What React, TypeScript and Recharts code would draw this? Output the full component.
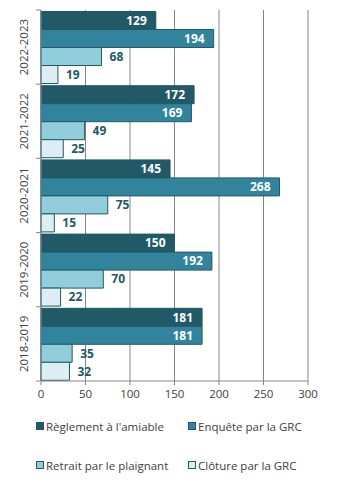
import React from 'react';
import { BarChart, Bar, XAxis, YAxis, CartesianGrid, LabelList } from 'recharts';

const categories = ['2022-2023', '2021-2022', '2020-2021', '2019-2020', '2018-2019'];
const reglement = [129, 172, 145, 150, 181];
const enquete = [194, 169, 268, 192, 181];
const retrait = [68, 49, 75, 70, 35];
const cloture = [19, 25, 15, 22, 32];
const xTicks = [0, 50, 100, 150, 200, 250, 300];

const seriesNames = ["Règlement à l'amiable", 'Enquête par la GRC', 'Retrait par le plaignant', 'Clôture par la GRC'];
const colors = ['#215967', '#31849B', '#92CDDC', '#DAEEF3'];
const strokeColor = '#215967';
const axisColor = '#868686';
const textColor = '#404040';
const font = 'Open Sans';

const data = categories.map((c, i) => ({
  cat: c,
  reglement: reglement[i],
  enquete: enquete[i],
  retrait: retrait[i],
  cloture: cloture[i],
}));

const PLOT_LEFT = 41;
const PLOT_TOP = 10;
const PLOT_H = 371;
const BAND = PLOT_H / categories.length;

const YTick = (props: any) => {
  const { y, payload, index } = props;
  return (
    <g>
      <line x1={PLOT_LEFT - 5} x2={PLOT_LEFT} y1={y - BAND / 2} y2={y - BAND / 2} stroke={axisColor} />
      {index === categories.length - 1 && (
        <line x1={PLOT_LEFT - 5} x2={PLOT_LEFT} y1={y + BAND / 2} y2={y + BAND / 2} stroke={axisColor} />
      )}
      <text
        transform={`translate(${23},${y}) rotate(-90)`}
        textAnchor="middle"
        dominantBaseline="central"
        fontFamily={font}
        fontSize={11.5}
        fill={textColor}
      >
        {payload.value}
      </text>
    </g>
  );
};

const LegendBlock = () => {
  const pos = [
    { left: 36, top: 426 },
    { left: 188, top: 426 },
    { left: 36, top: 465 },
    { left: 188, top: 465 },
  ];
  return (
    <>
      {seriesNames.map((n, i) => (
        <div
          key={i}
          style={{
            position: 'absolute',
            left: pos[i].left,
            top: pos[i].top - 9,
            height: 18,
            display: 'flex',
            alignItems: 'center',
            fontFamily: font,
            fontSize: 11.5,
            color: textColor,
            whiteSpace: 'nowrap',
          }}
        >
          <span
            style={{
              display: 'inline-block',
              width: 6,
              height: 6,
              background: colors[i],
              border: `1px solid ${strokeColor}`,
              marginRight: 2,
            }}
          />
          <span>{n}</span>
        </div>
      ))}
    </>
  );
};

const labelStyleIn = { fill: '#FFFFFF', fontFamily: font, fontSize: 12, fontWeight: 700 };
const labelStyleOut = { fill: '#215967', fontFamily: font, fontSize: 12, fontWeight: 700 };

export default function App() {
  return (
    <div style={{ position: 'absolute', left: 0, top: 0, width: 350, height: 487, background: '#fff' }}>
      <BarChart
        width={350}
        height={487}
        data={data}
        layout="vertical"
        margin={{ top: PLOT_TOP, right: 42, left: 0, bottom: 81 }}
        barCategoryGap={1.5}
        barGap={0}
      >
        <CartesianGrid horizontal={false} stroke={axisColor} strokeWidth={1} />
        <XAxis
          type="number"
          domain={[0, 300]}
          ticks={xTicks}
          interval={0}
          stroke={axisColor}
          tickSize={4}
          tickMargin={5}
          height={25}
          tick={{ fill: textColor, fontFamily: font, fontSize: 11.5 }}
        />
        <YAxis
          type="category"
          dataKey="cat"
          width={PLOT_LEFT}
          stroke={axisColor}
          tickLine={false}
          tick={<YTick />}
          interval={0}
        />
        <Bar dataKey="reglement" name={seriesNames[0]} fill={colors[0]} stroke={strokeColor} isAnimationActive={false}>
          <LabelList dataKey="reglement" position="insideRight" offset={9} style={labelStyleIn} />
        </Bar>
        <Bar dataKey="enquete" name={seriesNames[1]} fill={colors[1]} stroke={strokeColor} isAnimationActive={false}>
          <LabelList dataKey="enquete" position="insideRight" offset={9} style={labelStyleIn} />
        </Bar>
        <Bar dataKey="retrait" name={seriesNames[2]} fill={colors[2]} stroke={strokeColor} isAnimationActive={false}>
          <LabelList dataKey="retrait" position="right" offset={8} style={labelStyleOut} />
        </Bar>
        <Bar dataKey="cloture" name={seriesNames[3]} fill={colors[3]} stroke={strokeColor} isAnimationActive={false}>
          <LabelList dataKey="cloture" position="right" offset={8} style={labelStyleOut} />
        </Bar>
      </BarChart>
      <LegendBlock />
    </div>
  );
}
